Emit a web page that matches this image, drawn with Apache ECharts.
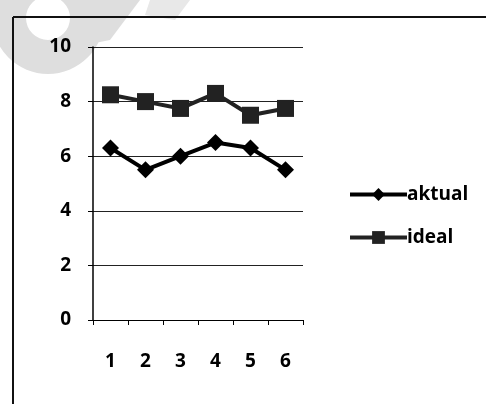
<!DOCTYPE html>
<html><head><meta charset="utf-8">
<script src="https://cdn.jsdelivr.net/npm/echarts@6/dist/echarts.min.js"></script>
<style>html,body{margin:0;padding:0;background:#fff}#c{width:486px;height:404px}</style>
</head><body><div id="c"></div>
<script>
const categories = ['1','2','3','4','5','6'];
const aktual = [6.3, 5.5, 6.0, 6.5, 6.3, 5.5];
const ideal = [8.25, 8.0, 7.75, 8.3, 7.5, 7.75];
const yTicks = {min: 0, max: 10, interval: 2};

const chart = echarts.init(document.getElementById('c'));
const font = 'Open Sans';
chart.setOption({
  backgroundColor: '#fff',
  animation: false,
  grid: {left: 93, top: 47, width: 210, height: 273, containLabel: false},
  graphic: [
    {type: 'ring', z: -10, shape: {cx: 48, cy: 18, r: 56, r0: 22}, style: {fill: '#dedede'}},
    {type: 'polygon', z: -10, shape: {points: [[100, 0], [140, 0], [110, 40], [85, 45]]}, style: {fill: '#dedede'}},
    {type: 'polygon', z: -10, shape: {points: [[150, 0], [190, 0], [175, 20], [145, 15]]}, style: {fill: '#e8e8e8'}},
    {type: 'line', shape: {x1: 13, y1: 17, x2: 486, y2: 17}, style: {stroke: '#111', lineWidth: 2}},
    {type: 'line', shape: {x1: 13, y1: 17, x2: 13, y2: 404}, style: {stroke: '#111', lineWidth: 2}}
  ],
  legend: {
    orient: 'vertical', left: 343, top: 180, itemGap: 24, itemWidth: 57, itemHeight: 16,
    lineStyle: {width: 4},
    textStyle: {fontFamily: font, fontWeight: 'bold', fontSize: 19, color: '#000', padding: [0,0,0,-5]},
    data: ['aktual', 'ideal']
  },
  xAxis: {
    type: 'category', data: categories, boundaryGap: true,
    axisLine: {lineStyle: {color: '#000', width: 1}},
    axisTick: {show: true, inside: false, length: 5, lineStyle: {color: '#000'}},
    axisLabel: {fontFamily: font, fontWeight: 'bold', fontSize: 19, color: '#000', margin: 32},
    splitLine: {show: false}
  },
  yAxis: {
    type: 'value', min: yTicks.min, max: yTicks.max, interval: yTicks.interval,
    axisLine: {show: true, lineStyle: {color: '#000', width: 1.5}},
    axisTick: {show: true, inside: false, length: 5, lineStyle: {color: '#000'}},
    axisLabel: {fontFamily: font, fontWeight: 'bold', fontSize: 19, color: '#000', margin: 22},
    splitLine: {show: true, lineStyle: {color: '#222', width: 1}}
  },
  series: [
    {name: 'aktual', type: 'line', data: aktual, symbol: 'diamond', symbolSize: 17,
     lineStyle: {color: '#000', width: 4}, itemStyle: {color: '#000'}},
    {name: 'ideal', type: 'line', data: ideal, symbol: 'rect', symbolSize: 17,
     lineStyle: {color: '#222', width: 4}, itemStyle: {color: '#222'}}
  ]
});
</script></body></html>
